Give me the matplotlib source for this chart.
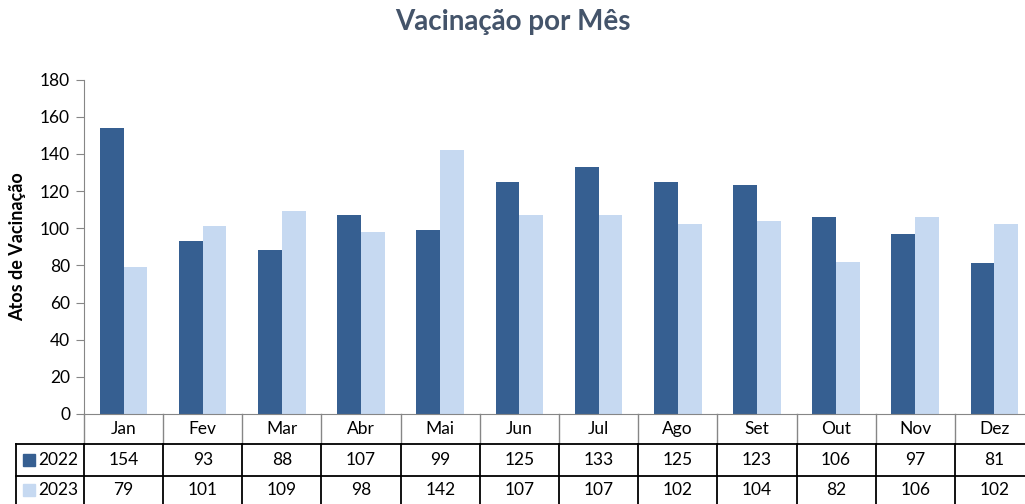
import matplotlib
matplotlib.use('Agg')
import matplotlib.pyplot as plt
import matplotlib.transforms as mtransforms
from matplotlib.patches import Rectangle
import numpy as np

plt.rcParams['font.family'] = ['Lato', 'DejaVu Sans']

# data
months = ['Jan', 'Fev', 'Mar', 'Abr', 'Mai', 'Jun', 'Jul', 'Ago', 'Set', 'Out', 'Nov', 'Dez']
vac_2022 = [154, 93, 88, 107, 99, 125, 133, 125, 123, 106, 97, 81]
vac_2023 = [79, 101, 109, 98, 142, 107, 107, 102, 104, 82, 106, 102]
series_names = ['2022', '2023']
series_colors = ['#365F91', '#C6D9F1']

W, H = 1025, 504
fig = plt.figure(figsize=(W / 100, H / 100), dpi=100)
ax = fig.add_axes([84 / W, 1 - 414 / H, 950 / W, 334.5 / H])

x = np.arange(len(months))
bw = 0.3
ax.bar(x - bw / 2, vac_2022, bw, color=series_colors[0])
ax.bar(x + bw / 2, vac_2023, bw, color=series_colors[1])

ax.set_xlim(-0.5, len(months) - 0.5)
ax.set_ylim(0, 180)
ax.set_yticks(range(0, 181, 20))
ax.set_xticks([])
for s in ['top', 'right']:
    ax.spines[s].set_visible(False)
ax.spines['left'].set_color('#868686')
ax.spines['bottom'].set_color('#868686')
ax.tick_params(axis='y', direction='out', length=6, color='#868686', labelsize=12.5, pad=4)

def fy(py):
    # pixel row (from top) -> figure fraction
    return 1 - py / H

# title and y label
fig.text(0.5, fy(22), 'Vacinação por Mês', ha='center', va='center',
         fontsize=20, fontweight='bold', color='#44546A')
fig.text(18 / W, fy(247), 'Atos de Vacinação', ha='center', va='center',
         rotation=90, fontsize=13, fontweight='bold')

# data table below the axis
tr = mtransforms.blended_transform_factory(ax.transData, fig.transFigure)
top, h1, h2, bot = 414, 444, 475.5, 510
row_centers = [(h1 + h2) / 2, (h2 + bot - 6) / 2]

for i, m in enumerate(months):
    ax.text(i, fy((top + h1) / 2), m, transform=tr, ha='center', va='center',
            fontsize=12.5, clip_on=False)
    for r, vals in enumerate([vac_2022, vac_2023]):
        ax.text(i, fy(row_centers[r]), str(vals[i]), transform=tr, ha='center',
                va='center', fontsize=12.5, clip_on=False)

for i in range(len(months) + 1):
    xb = i - 0.5
    ax.plot([xb, xb], [fy(top), fy(h1)], transform=tr, color='#868686', lw=1, clip_on=False)
    ax.plot([xb, xb], [fy(h1), fy(bot)], transform=tr, color='black', lw=1.3, clip_on=False)

for yy in [h1, h2]:
    fig.add_artist(plt.Line2D([16 / W, 1.02], [fy(yy), fy(yy)], color='black', lw=1.3))
fig.add_artist(plt.Line2D([16 / W, 16 / W], [fy(h1), fy(bot)], color='black', lw=1.3))

for r, name in enumerate(series_names):
    cy = row_centers[r]
    fig.add_artist(Rectangle((23 / W, fy(cy + 6)), 12 / W, 12 / H,
                             transform=fig.transFigure, color=series_colors[r]))
    fig.text(38 / W, fy(cy), name, ha='left', va='center', fontsize=12.5)

fig.savefig('out.png', dpi=100)
